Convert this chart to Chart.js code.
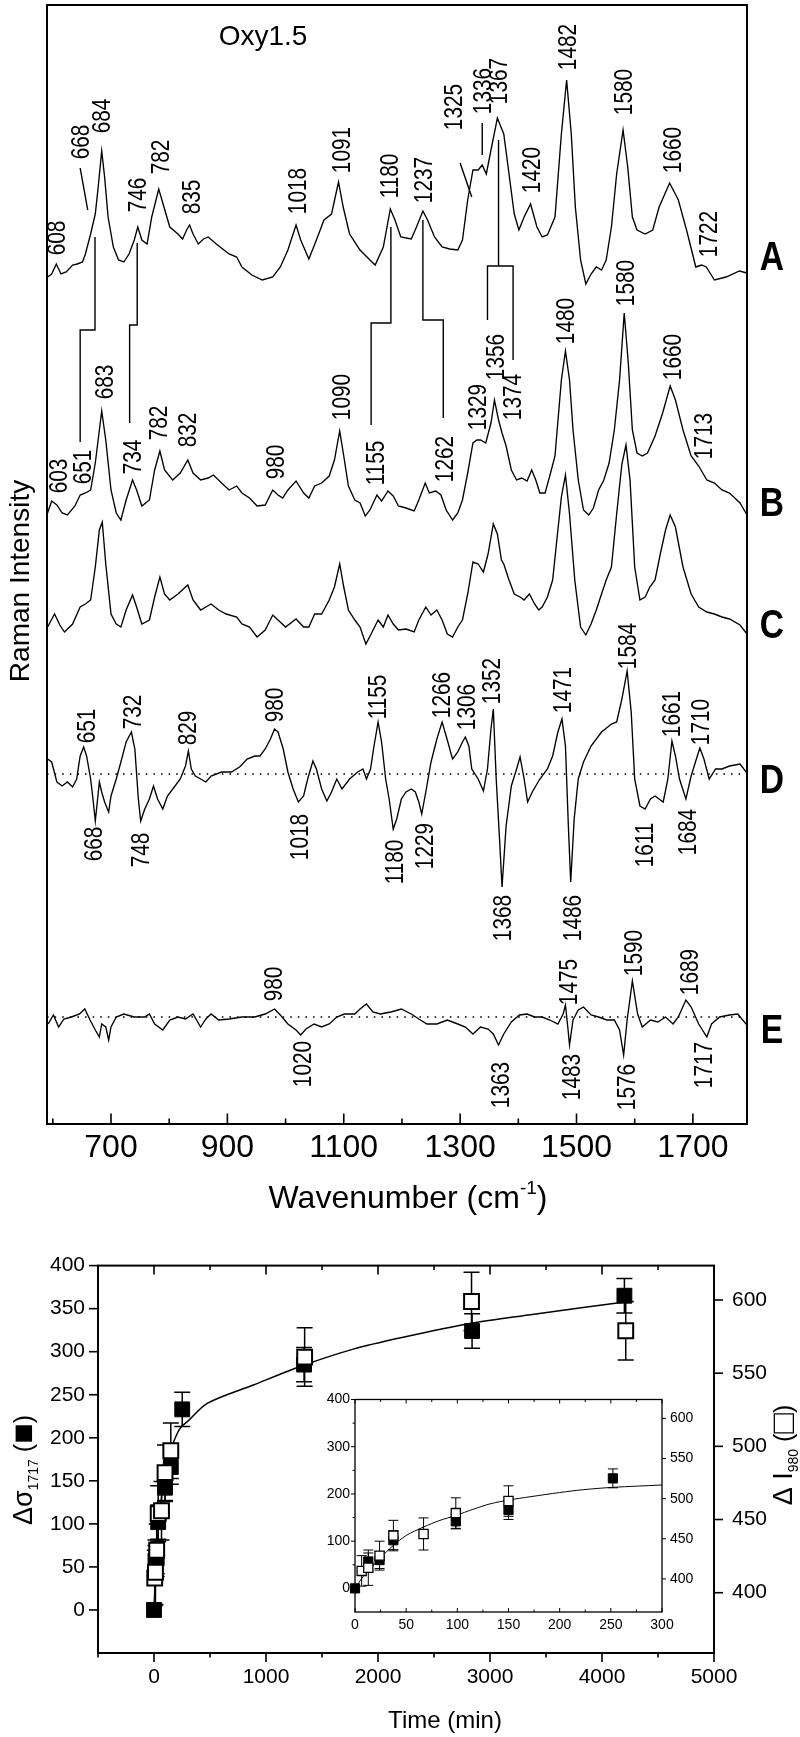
<!DOCTYPE html>
<html>
<head>
<meta charset="utf-8">
<script src="https://cdn.jsdelivr.net/npm/chart.js@4.4.1/dist/chart.umd.min.js"></script>
<style>
html, body { margin: 0; padding: 0; background: #fff; }
body { width: 800px; height: 1737px; position: relative; overflow: hidden; }
canvas { position: absolute; }
#spectra { left: 0; top: 0; }
#kinetics { left: 0; top: 1235px; }
#inset { left: 300px; top: 1380px; }
</style>
</head>
<body>
<canvas id="spectra" width="800" height="1235"></canvas>
<canvas id="kinetics" width="800" height="502"></canvas>
<canvas id="inset" width="420" height="265"></canvas>
<script>
const SANS = "'Liberation Sans', Arial, Helvetica, sans-serif";

// ---- spectra: [wavenumber, relative intensity] ----
const traceA = [[591,0],[598,3],[606,13],[614,3],[623,5],[634,12],[642,13],[651,15],[656,23],[665,43],[673,63],[678,90],[684,126],[689,100],[695,60],[704,30],[713,17],[722,15],[731,23],[740,37],[746,50],[753,37],[762,33],[770,60],[782,88],[791,70],[801,50],[815,43],[823,38],[830,47],[835,52],[841,43],[850,33],[859,38],[867,40],[881,33],[894,27],[903,23],[916,20],[925,10],[942,2],[960,-3],[978,0],[991,10],[1004,27],[1018,52],[1026,37],[1040,18],[1053,37],[1066,57],[1079,63],[1091,95],[1099,70],[1110,43],[1128,27],[1145,17],[1154,12],[1168,30],[1180,68],[1188,57],[1198,40],[1216,38],[1225,50],[1236,66],[1244,57],[1256,40],[1269,30],[1282,28],[1296,27],[1304,37],[1313,77],[1322,107],[1331,107],[1338,112],[1345,103],[1353,127],[1364,159],[1375,143],[1384,103],[1393,63],[1401,47],[1410,60],[1421,73],[1432,50],[1441,40],[1450,42],[1463,60],[1474,143],[1483,197],[1491,143],[1498,70],[1507,17],[1516,-7],[1525,3],[1534,10],[1543,7],[1551,17],[1560,50],[1569,103],[1580,147],[1588,110],[1596,60],[1604,47],[1618,43],[1631,47],[1642,70],[1660,94],[1675,77],[1690,45],[1705,10],[1715,12],[1723,10],[1737,-3],[1757,0],[1780,6],[1793,4]];
const traceB = [[591,0],[598,12],[607,8],[616,0],[625,-2],[638,7],[647,18],[656,20],[665,23],[673,50],[680,83],[684,102],[691,73],[700,23],[709,0],[717,-7],[726,13],[737,33],[744,23],[753,7],[766,13],[775,43],[784,62],[792,43],[806,33],[819,40],[832,53],[841,40],[854,33],[867,35],[876,38],[890,30],[903,23],[916,27],[925,20],[938,15],[951,7],[965,8],[978,23],[987,18],[995,15],[1004,23],[1018,32],[1031,20],[1040,15],[1050,27],[1062,30],[1075,37],[1084,53],[1093,82],[1100,57],[1108,27],[1119,13],[1128,10],[1137,-3],[1145,3],[1157,18],[1165,12],[1176,22],[1185,17],[1194,7],[1207,5],[1221,2],[1229,13],[1240,30],[1247,20],[1258,22],[1267,18],[1276,3],[1287,-7],[1296,0],[1304,13],[1313,40],[1322,70],[1329,73],[1335,73],[1344,70],[1353,90],[1359,113],[1366,93],[1372,80],[1379,67],[1388,43],[1397,33],[1406,35],[1415,32],[1423,43],[1430,33],[1437,20],[1446,20],[1454,37],[1463,57],[1474,133],[1481,162],[1488,133],[1494,83],[1503,33],[1512,3],[1521,-2],[1529,5],[1538,23],[1547,33],[1556,50],[1565,83],[1574,133],[1582,200],[1589,150],[1596,83],[1604,60],[1613,57],[1622,60],[1635,77],[1648,100],[1661,127],[1670,113],[1683,83],[1697,57],[1710,47],[1724,33],[1737,30],[1750,23],[1763,20],[1781,10],[1793,-2]];
const traceC = [[591,0],[603,13],[612,2],[620,-5],[634,3],[647,20],[656,23],[665,27],[673,60],[680,97],[685,105],[691,63],[700,13],[709,3],[717,0],[726,17],[737,32],[744,20],[753,3],[766,7],[775,30],[784,50],[792,33],[801,27],[815,33],[832,42],[841,27],[854,17],[872,23],[885,17],[898,13],[916,10],[925,3],[938,0],[951,-10],[965,-3],[978,12],[987,7],[1000,0],[1018,8],[1031,0],[1040,0],[1050,13],[1062,13],[1075,27],[1084,40],[1093,63],[1100,40],[1108,17],[1119,7],[1128,0],[1138,-17],[1147,-7],[1159,7],[1168,0],[1176,12],[1185,3],[1194,-3],[1207,-2],[1221,-5],[1229,7],[1241,20],[1250,12],[1260,17],[1269,7],[1278,-7],[1287,-10],[1296,0],[1304,7],[1313,33],[1322,65],[1331,63],[1340,55],[1348,73],[1357,103],[1364,93],[1371,67],[1375,63],[1384,47],[1393,33],[1403,30],[1410,27],[1419,33],[1428,23],[1435,17],[1441,20],[1450,30],[1459,47],[1468,97],[1474,130],[1481,152],[1488,113],[1497,47],[1507,0],[1516,-8],[1525,3],[1534,17],[1543,33],[1551,47],[1560,60],[1569,113],[1578,163],[1585,182],[1592,147],[1600,60],[1609,27],[1618,30],[1626,40],[1635,47],[1644,73],[1653,97],[1661,112],[1670,100],[1683,60],[1697,33],[1710,20],[1724,15],[1737,13],[1750,10],[1763,8],[1781,2],[1793,-7]];
const traceD = [[591,15],[598,12],[607,-8],[616,-12],[625,-8],[634,-13],[641,-5],[647,18],[653,27],[658,18],[665,-5],[669,-25],[673,-47],[680,-8],[684,-18],[689,-28],[696,-38],[700,-22],[709,-5],[717,12],[726,32],[735,42],[741,25],[747,-25],[751,-47],[758,-35],[766,-25],[773,-12],[780,-25],[789,-35],[797,-22],[810,-12],[819,-5],[828,8],[833,23],[838,5],[845,-2],[854,-5],[863,-8],[872,-2],[890,2],[907,2],[921,7],[934,15],[947,18],[956,18],[965,25],[974,35],[981,45],[987,42],[996,25],[1004,2],[1013,-15],[1022,-28],[1031,-22],[1038,-5],[1047,13],[1053,5],[1062,-15],[1071,-27],[1079,-18],[1088,-5],[1097,-15],[1110,-5],[1124,2],[1133,5],[1139,-5],[1146,5],[1152,28],[1159,52],[1165,32],[1172,-5],[1178,-25],[1185,-55],[1191,-45],[1199,-25],[1207,-18],[1216,-15],[1223,-18],[1229,-28],[1234,-40],[1241,-18],[1250,12],[1260,35],[1269,52],[1276,38],[1287,15],[1296,22],[1304,32],[1309,37],[1315,28],[1320,5],[1331,-5],[1340,-17],[1347,5],[1353,45],[1357,65],[1362,-5],[1368,-68],[1372,-113],[1379,-52],[1388,-12],[1397,5],[1403,17],[1410,-5],[1416,-28],[1424,-18],[1437,-5],[1450,5],[1459,18],[1468,42],[1475,55],[1481,28],[1486,-52],[1490,-108],[1496,-45],[1503,-5],[1512,12],[1525,28],[1543,42],[1560,50],[1569,52],[1578,75],[1587,103],[1594,62],[1600,-5],[1609,-32],[1618,-35],[1627,-25],[1635,-22],[1649,-28],[1657,-5],[1664,33],[1670,18],[1677,-5],[1688,-25],[1697,-2],[1706,15],[1712,26],[1719,15],[1728,-5],[1739,5],[1750,5],[1763,8],[1781,10],[1793,1]];
const traceE = [[592,-7],[601,2],[610,-10],[619,-2],[632,0],[646,3],[655,8],[664,-3],[673,-13],[680,-20],[684,-7],[691,-10],[696,-23],[700,-10],[709,0],[722,3],[740,0],[758,0],[766,3],[775,-7],[789,-13],[801,-3],[815,0],[828,-2],[841,3],[854,-10],[863,-2],[872,3],[885,-3],[903,-2],[925,0],[947,0],[965,3],[981,8],[991,2],[1004,-7],[1018,-13],[1026,-18],[1035,-12],[1049,-7],[1062,-10],[1075,-7],[1088,0],[1101,3],[1119,3],[1128,8],[1139,13],[1150,5],[1163,3],[1181,5],[1199,8],[1216,3],[1229,-2],[1243,-7],[1260,-7],[1278,-3],[1296,-7],[1309,-10],[1322,-17],[1335,-10],[1348,-12],[1357,-17],[1366,-28],[1375,-17],[1388,-5],[1402,2],[1415,3],[1428,0],[1441,0],[1454,-3],[1468,-7],[1477,3],[1481,12],[1485,-10],[1488,-28],[1494,-3],[1503,7],[1512,10],[1525,2],[1538,0],[1552,-3],[1565,-3],[1574,-13],[1581,-38],[1587,-3],[1596,36],[1605,3],[1613,-10],[1627,-3],[1640,-5],[1653,0],[1666,-7],[1675,0],[1688,17],[1697,10],[1710,-7],[1724,-20],[1732,-7],[1746,0],[1763,2],[1777,3],[1793,-8]];

const traceNames = ['A', 'B', 'C', 'D', 'E'];
const traceOffsets = [847, 611, 497, 350, 107];
const nameLevels = [869, 623, 501, 346, 96];
const wavenumberTicks = [600, 700, 800, 900, 1000, 1100, 1200, 1300, 1400, 1500, 1600, 1700];
const wavenumberLabels = [700, 900, 1100, 1300, 1500, 1700];

// peak labels: [text, wavenumber, height of label centre]
const peakLabels = [
  ['608',605,886],['668',647,982],['684',682,1008],['746',744,929],['782',784,967],['835',837,927],
  ['1018',1019,933],['1091',1094,974],['1180',1178,948],['1237',1236,944],['1325',1287,1017],
  ['1336',1337,1033],['1367',1364,1043],['1420',1421,954],['1482',1483,1077],['1580',1580,1032],
  ['1660',1664,974],['1722',1725,890],
  ['603',609,648],['651',649,657],['683',687,742],['734',735,667],['782',781,701],['832',830,694],
  ['980',982,662],['1090',1094,727],['1155',1154,661],['1262',1271,665],['1329',1328,717],
  ['1356',1359,767],['1374',1388,727],['1480',1479,803],['1580',1582,841],['1660',1664,767],['1713',1717,688],
  ['651',656,398],['732',735,412],['829',830,396],['980',980,419],['1155',1156,427],['1266',1267,429],
  ['1306',1309,417],['1352',1353,443],['1471',1474,434],['1584',1587,478],['1661',1662,410],['1710',1712,402],
  ['668',669,280],['748',750,274],['1018',1022,287],['1180',1185,262],['1229',1238,278],['1368',1372,206],
  ['1486',1492,206],['1611',1615,279],['1684',1690,292],
  ['980',978,140],['1475',1485,142],['1590',1596,171],['1689',1693,152],
  ['1020',1028,60],['1363',1368,39],['1483',1490,47],['1576',1585,37],['1717',1717,59]
];

// correlation lines A -> B and label leaders: [wavenumber, height]
const links = [
  [[672.5,887],[672.5,794],[647,794],[647,682]],
  [[745,881],[745,799],[732,799],[732,701]],
  [[1181,897],[1181,801],[1147,801],[1147,699]],
  [[1236,904],[1236,804],[1271,804],[1271,706]],
  [[1366,984],[1366,858]],
  [[1347,804],[1347,858],[1391,858],[1391,764]],
  [[647,956],[660,914]],
  [[1300,961],[1320,927]],
  [[1338,1001],[1338,969]]
];

// ---- kinetics ----
const fitTime = [0,8,24,37.5,50,67,83,98,116,132,150,171,200,223,252,300,475,880,1330,1780,2235,2830,3360,3815,4220];
const fitSigma = [0,25,63,91,112,130,144,154,168,179,187,194,203,209,214,219,240,261,284,303,317,333,343,351,358];
const sigmaTime = [0,13,24,37.5,98.5,150,252,1340,2840,4200];
const sigmaValue = [0,57,60,102,142,166,233,285,324,365];
const sigmaErr = [0,18,18,20,16,20,20,20,20,20];
const i980Time = [6.5,13,24,37.5,67,98.5,150,1345,2835,4212];
const i980Value = [410,414,429,454,456,482,497,561,599,579];
const i980Err = [19,22,18,19,20,19,19,20,20,20];

// ---- plugins ----
const frameTicks = {
  id: 'frameTicks',
  afterDraw(chart, args, opts) {
    const { ctx, chartArea: a } = chart;
    ctx.save();
    ctx.strokeStyle = '#000';
    ctx.lineWidth = opts.width;
    ctx.strokeRect(a.left, a.top, a.right - a.left, a.bottom - a.top);
    ctx.lineWidth = opts.tickWidth;
    opts.marks.forEach(m => {
      const scale = chart.scales[m.scale];
      scale.ticks.forEach(t => {
        if (m.skip && m.skip(t.value)) return;
        const p = scale.getPixelForValue(t.value);
        const len = (m.major(t.value) ? m.long : m.short) * m.dir;
        ctx.beginPath();
        if (m.side === 'bottom') { ctx.moveTo(p, a.bottom); ctx.lineTo(p, a.bottom + len); }
        if (m.side === 'top') { ctx.moveTo(p, a.top); ctx.lineTo(p, a.top - len); }
        if (m.side === 'left') { ctx.moveTo(a.left, p); ctx.lineTo(a.left - len, p); }
        if (m.side === 'right') { ctx.moveTo(a.right, p); ctx.lineTo(a.right + len, p); }
        ctx.stroke();
      });
    });
    ctx.restore();
  }
};

const errorBars = {
  id: 'errorBars',
  beforeDatasetsDraw(chart, args, opts) {
    const { ctx } = chart;
    ctx.save();
    ctx.strokeStyle = '#000';
    ctx.lineWidth = opts.width;
    chart.data.datasets.forEach(ds => {
      if (!ds.errors) return;
      const xs = chart.scales.x, ys = chart.scales[ds.yAxisID || 'y'];
      ds.data.forEach((p, j) => {
        const e = ds.errors[j];
        if (!e) return;
        const px = xs.getPixelForValue(p.x);
        const y1 = ys.getPixelForValue(p.y - e), y2 = ys.getPixelForValue(p.y + e);
        ctx.beginPath();
        ctx.moveTo(px, y1); ctx.lineTo(px, y2);
        ctx.moveTo(px - opts.cap, y1); ctx.lineTo(px + opts.cap, y1);
        ctx.moveTo(px - opts.cap, y2); ctx.lineTo(px + opts.cap, y2);
        ctx.stroke();
      });
    });
    ctx.restore();
  }
};

// text made of pieces with different size / baseline shift, centred on (x, y)
function richText(ctx, parts, x, y, rot, squeeze) {
  ctx.save();
  ctx.translate(x, y);
  ctx.rotate(rot);
  ctx.scale(squeeze || 1, 1);
  ctx.textAlign = 'left';
  ctx.textBaseline = 'alphabetic';
  let w = 0;
  parts.forEach(p => { ctx.font = p.font; w += ctx.measureText(p.t).width; });
  let cx = -w / 2;
  parts.forEach(p => {
    ctx.font = p.font;
    ctx.fillText(p.t, cx, p.dy);
    cx += ctx.measureText(p.t).width;
  });
  ctx.restore();
}

const spectraText = {
  id: 'spectraText',
  afterDraw(chart) {
    const { ctx, scales: { x, y }, chartArea: a } = chart;
    ctx.save();
    ctx.fillStyle = '#000';
    peakLabels.forEach(([t, cm, v]) => {
      richText(ctx, [{ t, font: `26px ${SANS}`, dy: 9.3 }], x.getPixelForValue(cm), y.getPixelForValue(v), -Math.PI / 2, 0.8);
    });
    traceNames.forEach((n, i) => {
      richText(ctx, [{ t: n, font: `bold 41px ${SANS}`, dy: 14.7 }], a.right + 25, y.getPixelForValue(nameLevels[i]), 0, 0.82);
    });
    richText(ctx, [{ t: 'Oxy1.5', font: `28px ${SANS}`, dy: 10 }], 263, 35, 0);
    richText(ctx, [{ t: 'Raman Intensity', font: `28px ${SANS}`, dy: 10 }], 19, 581, -Math.PI / 2);
    richText(ctx, [
      { t: 'Wavenumber (cm', font: `32px ${SANS}`, dy: 11 },
      { t: '-1', font: `19px ${SANS}`, dy: -3 },
      { t: ')', font: `32px ${SANS}`, dy: 11 }
    ], 408, 1197, 0);
    ctx.restore();
  }
};

const kineticsText = {
  id: 'kineticsText',
  afterDraw(chart) {
    const { ctx } = chart;
    ctx.save();
    ctx.fillStyle = '#000';
    richText(ctx, [{ t: 'Time (min)', font: `24px ${SANS}`, dy: 9 }], 445, 484, 0);
    richText(ctx, [
      { t: '\u0394\u03c3', font: `27px ${SANS}`, dy: 9 },
      { t: '1717', font: `14px ${SANS}`, dy: 15 },
      { t: ' (', font: `25px ${SANS}`, dy: 9 },
      { t: '\u25a0', font: `34px ${SANS}`, dy: 11 },
      { t: ')', font: `25px ${SANS}`, dy: 9 }
    ], 23, 235, -Math.PI / 2);
    richText(ctx, [
      { t: '\u0394 I', font: `27px ${SANS}`, dy: 9 },
      { t: '980', font: `14px ${SANS}`, dy: 15 },
      { t: ' (', font: `25px ${SANS}`, dy: 9 },
      { t: '\u25a1', font: `34px ${SANS}`, dy: 11 },
      { t: ')', font: `25px ${SANS}`, dy: 9 }
    ], 783, 220, -Math.PI / 2);
    ctx.restore();
  }
};

// ---- spectra chart ----
const lineDs = (pts, width, dash) => ({
  data: pts.map(([x, y]) => ({ x, y })),
  borderColor: '#000', borderWidth: width, borderDash: dash || [],
  pointRadius: 0, fill: false, tension: 0
});

const spectraSets = [];
[traceA, traceB, traceC, traceD, traceE].forEach((tr, i) => {
  spectraSets.push(lineDs(tr.map(([cm, v]) => [cm, v + traceOffsets[i]]), 1.35));
});
[3, 4].forEach(i => spectraSets.push(lineDs([[590, traceOffsets[i]], [1793, traceOffsets[i]]], 1.6, [1.6, 6])));
links.forEach(l => spectraSets.push(lineDs(l, 1.4)));

new Chart(document.getElementById('spectra'), {
  type: 'line',
  data: { datasets: spectraSets },
  options: {
    responsive: false, animation: false,
    layout: { padding: { left: 47, right: 53, top: 5, bottom: 0 } },
    plugins: {
      legend: { display: false }, tooltip: { enabled: false },
      frameTicks: { width: 2, tickWidth: 1.6, marks: [
        { scale: 'x', side: 'bottom', dir: -1, long: 10.5, short: 5.5, major: v => wavenumberLabels.includes(v) }
      ] }
    },
    scales: {
      x: {
        type: 'linear', min: 590, max: 1793,
        grid: { display: false, drawTicks: false }, border: { display: false },
        afterBuildTicks: s => { s.ticks = wavenumberTicks.map(value => ({ value })); },
        ticks: {
          autoSkip: false, maxRotation: 0, padding: 5,
          color: '#000', font: { size: 32, family: SANS },
          callback: v => (wavenumberLabels.includes(v) ? String(v) : '')
        },
        afterFit: s => { s.height = 111; }
      },
      y: { display: false, min: 0, max: 1119 }
    }
  },
  plugins: [frameTicks, spectraText]
});

// ---- kinetics chart ----
const xy = (xs, ys) => xs.map((x, i) => ({ x, y: ys[i] }));

function kineticsSets(r, bw, keep) {
  const pick = (xs, ys, es) => {
    const idx = xs.map((x, i) => i).filter(i => keep(xs[i]));
    return { data: idx.map(i => ({ x: xs[i], y: ys[i] })), errors: idx.map(i => es[i]) };
  };
  const open = pick(i980Time, i980Value, i980Err);
  const filled = pick(sigmaTime, sigmaValue, sigmaErr);
  return [
    { data: open.data, errors: open.errors, yAxisID: 'y2', pointStyle: 'rect', pointRadius: r,
      backgroundColor: '#fff', borderColor: '#000', borderWidth: bw, showLine: false, clip: false },
    { data: filled.data, errors: filled.errors, yAxisID: 'y', pointStyle: 'rect', pointRadius: r,
      backgroundColor: '#000', borderColor: '#000', borderWidth: 1, showLine: false, clip: false },
    { data: xy(fitTime, fitSigma), yAxisID: 'y', showLine: true, pointRadius: 0,
      borderColor: '#000', borderWidth: bw * 0.75, tension: 0.3, fill: false }
  ];
}

const axisFont = size => ({ size, family: SANS });

new Chart(document.getElementById('kinetics'), {
  type: 'scatter',
  data: { datasets: kineticsSets(10.5, 2, () => true) },
  options: {
    responsive: false, animation: false,
    layout: { padding: { left: 0, right: 0, top: 13, bottom: 0 } },
    plugins: {
      legend: { display: false }, tooltip: { enabled: false },
      errorBars: { width: 1.5, cap: 8 },
      frameTicks: {
        width: 2, tickWidth: 1.6, marks: [
          { scale: 'x', side: 'bottom', dir: 1, long: 9, short: 4.5, major: v => v % 1000 === 0 },
          { scale: 'x', side: 'top', dir: -1, long: 9, short: 4.5, major: v => v % 1000 === 0 },
          { scale: 'y', side: 'left', dir: 1, long: 9, short: 9, major: () => true, skip: v => v < 0 },
          { scale: 'y2', side: 'right', dir: 1, long: 9, short: 9, major: () => true }
        ]
      }
    },
    scales: {
      x: {
        type: 'linear', min: -500, max: 5000,
        grid: { display: false, drawTicks: false }, border: { display: false },
        ticks: { stepSize: 500, autoSkip: false, maxRotation: 0, padding: 12, color: '#000', font: axisFont(21),
          callback: v => (v % 1000 === 0 ? String(v) : '') },
        afterFit: s => { s.height = 84; }
      },
      y: {
        position: 'left', min: -50, max: 400,
        grid: { display: false, drawTicks: false }, border: { display: false },
        ticks: { stepSize: 50, autoSkip: false, padding: 13, color: '#000', font: axisFont(21),
          callback: v => (v < 0 ? '' : String(v)) },
        afterFit: s => { s.width = 98; }
      },
      y2: {
        position: 'right', min: 358.8, max: 623.5,
        grid: { display: false, drawTicks: false }, border: { display: false },
        afterBuildTicks: s => { s.ticks = [400, 450, 500, 550, 600].map(value => ({ value })); },
        ticks: { autoSkip: false, padding: 18, color: '#000', font: axisFont(21) },
        afterFit: s => { s.width = 86; }
      }
    }
  },
  plugins: [errorBars, frameTicks, kineticsText]
});

// ---- inset ----
new Chart(document.getElementById('inset'), {
  type: 'scatter',
  data: { datasets: kineticsSets(6.5, 1.3, t => t <= 300) },
  options: {
    responsive: false, animation: false,
    layout: { padding: { left: 0, right: 0, top: 19.5, bottom: 0 } },
    plugins: {
      legend: { display: false }, tooltip: { enabled: false },
      errorBars: { width: 1, cap: 5 },
      frameTicks: {
        width: 1.3, tickWidth: 1, marks: [
          { scale: 'x', side: 'bottom', dir: -1, long: 4, short: 2.5, major: v => v % 50 === 0 },
          { scale: 'x', side: 'top', dir: -1, long: 4, short: 2.5, major: v => v % 50 === 0 },
          { scale: 'y', side: 'left', dir: 1, long: 4, short: 2.5, major: v => v % 100 === 0, skip: v => v < 0 },
          { scale: 'y2', side: 'right', dir: 1, long: 4, short: 4, major: () => true }
        ]
      }
    },
    scales: {
      x: {
        type: 'linear', min: 0, max: 300,
        grid: { display: false, drawTicks: false }, border: { display: false },
        ticks: { stepSize: 25, autoSkip: false, maxRotation: 0, padding: 5, color: '#000', font: axisFont(14),
          callback: v => (v % 50 === 0 ? String(v) : '') },
        afterFit: s => { s.height = 33; }
      },
      y: {
        position: 'left', min: -50, max: 400,
        grid: { display: false, drawTicks: false }, border: { display: false },
        ticks: { stepSize: 50, autoSkip: false, padding: 5, color: '#000', font: axisFont(14),
          callback: v => (v >= 0 && v % 100 === 0 ? String(v) : '') },
        afterFit: s => { s.width = 55; }
      },
      y2: {
        position: 'right', min: 358.8, max: 623.5,
        grid: { display: false, drawTicks: false }, border: { display: false },
        afterBuildTicks: s => { s.ticks = [400, 450, 500, 550, 600].map(value => ({ value })); },
        ticks: { autoSkip: false, padding: 8, color: '#000', font: axisFont(14) },
        afterFit: s => { s.width = 58; }
      }
    }
  },
  plugins: [errorBars, frameTicks]
});
</script>
</body>
</html>
